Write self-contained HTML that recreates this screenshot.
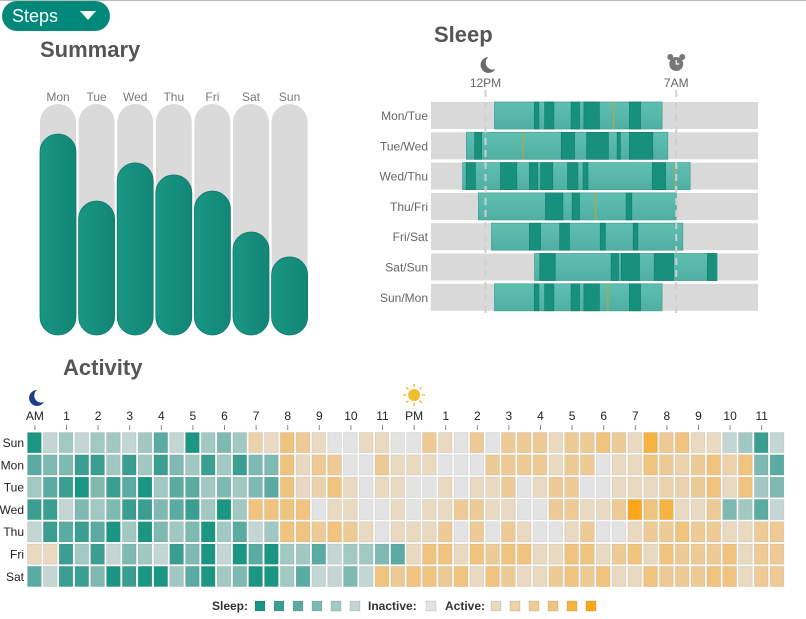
<!DOCTYPE html>
<html><head><meta charset="utf-8">
<style>
html,body{margin:0;padding:0;background:#fff;width:806px;height:619px;overflow:hidden;font-family:"Liberation Sans",sans-serif;}
svg text{font-family:"Liberation Sans",sans-serif;}
</style></head>
<body>
<svg id="root" width="806" height="619" viewBox="0 0 806 619" xmlns="http://www.w3.org/2000/svg">
<defs>
<linearGradient id="stepG" x1="0" x2="1" y1="0" y2="0"><stop offset="0" stop-color="#1a9684"/><stop offset="1" stop-color="#128676"/></linearGradient>
<linearGradient id="lightG" x1="0" x2="0" y1="0" y2="1"><stop offset="0" stop-color="#5fc0b2"/><stop offset="1" stop-color="#4fafa2"/></linearGradient>
</defs>
<line x1="0" y1="0.5" x2="806" y2="0.5" stroke="#bbb"/>
<g>
<rect x="2" y="1" width="108" height="30" rx="15" fill="#00897b"/>
<text x="12" y="22" font-size="18" fill="#fff">Steps</text>
<path d="M80 11 L96 11 L88 20 Z" fill="#fff"/>
</g>
<text x="40" y="57" font-size="22" font-weight="bold" fill="#555">Summary</text>
<text x="434" y="42" font-size="22" font-weight="bold" fill="#555">Sleep</text>
<text x="63" y="375" font-size="22" font-weight="bold" fill="#555">Activity</text>
<g id="summary"></g>
<g id="sleep"></g>
<g id="activity"></g>
<g id="legend"></g>
</svg>
<script>
const NS="http://www.w3.org/2000/svg";
function mk(tag,attrs,parent){const e=document.createElementNS(NS,tag);for(const k in attrs)e.setAttribute(k,attrs[k]);if(parent)parent.appendChild(e);return e;}

// ---------- Summary data ----------
const stepDays=["Mon","Tue","Wed","Thu","Fri","Sat","Sun"];
const stepValues=[8700,5800,7450,6930,6230,4460,3380];
const stepMax=10000;

// ---------- Sleep data (hours relative to midnight) ----------
const sleepNights=["Mon/Tue","Tue/Wed","Wed/Thu","Thu/Fri","Fri/Sat","Sat/Sun","Sun/Mon"];
const sleepStart=[0.33,-0.70,-0.84,-0.26,0.22,1.80,0.33];
const sleepEnd=[6.48,6.69,7.51,7.0,7.24,8.50,6.48];
const deepSegments=[
 [[1.79,1.96],[2.17,2.51],[3.14,3.45],[3.61,4.18],[5.28,5.69]],
 [[-0.40,-0.14],[2.78,3.27],[3.71,4.51],[4.83,4.95],[5.28,6.14]],
 [[-0.71,-0.37],[0.55,1.15],[1.61,1.92],[2.02,2.47],[3.01,3.39],[3.58,3.76],[6.12,6.61]],
 [[2.20,2.84],[3.18,3.45],[5.16,5.37]],
 [[1.61,2.02],[2.72,3.08],[4.21,4.40],[5.42,5.59]],
 [[1.99,2.56],[4.61,4.88],[4.98,5.65],[6.19,6.90],[8.14,8.47]],
 [[1.79,1.96],[2.17,2.51],[3.14,3.45],[3.61,4.18],[5.28,5.69]]
];
const awakeMarks=[[4.70],[1.37],[6.97],[4.04],[],[],[4.49]];

// ---------- Activity data ----------
const actDays=["Sun","Mon","Tue","Wed","Thu","Fri","Sat"];
const hourLabels=["AM","1","2","3","4","5","6","7","8","9","10","11","PM","1","2","3","4","5","6","7","8","9","10","11"];
const actLevels=[
 [-6,-1,-2,-1,-2,-2,-1,-2,-4,-1,-6,-2,-3,-2,2,1,4,3,1,0,0,1,1,0, 0,3,1,0,3,0,3,3,3,1,3,3,4,3,1,5,3,4,1,1,-1,-2,-5,-1],
 [-4,-3,-3,-5,-5,-2,-5,-2,-5,-3,-2,-5,-2,-5,-3,-3,4,1,3,3,0,0,3,1, 1,1,0,0,0,3,3,3,3,1,3,3,0,1,1,4,3,2,3,4,2,4,-3,-4],
 [-2,-4,-5,-6,-3,-5,-4,-6,-2,-4,-4,-2,-3,-2,-3,-4,4,1,2,4,1,0,1,1, 0,0,1,0,1,1,3,0,1,3,3,0,0,1,1,1,2,2,3,4,1,4,-2,-3],
 [-5,-5,-1,-3,-2,-3,-5,-5,-3,-4,-5,-2,-6,-2,4,4,4,4,0,1,1,0,0,1, 0,1,1,3,3,1,1,0,0,3,3,1,1,3,6,4,5,1,1,3,-3,-2,-4,-1],
 [-1,-5,-4,-5,-4,-6,-2,-6,-3,-2,-3,-6,-2,-4,-1,-2,4,4,3,4,3,1,0,1, 1,1,3,0,3,0,3,1,0,0,1,3,0,0,1,3,3,4,3,3,1,1,3,3],
 [1,1,-5,-2,-5,-1,-3,-2,-1,-5,-3,-6,-1,-6,-4,-6,-2,-2,-4,-1,-2,-2,-3,-4, 1,4,4,1,4,3,4,4,1,1,4,4,1,3,4,1,4,3,3,3,4,1,3,3],
 [-4,-1,-5,-5,-3,-6,-5,-6,-6,-2,-4,-6,-2,-3,-6,-6,-2,-4,-1,-1,-3,-1,4,3, 4,4,3,4,1,4,3,1,1,3,4,3,4,1,1,4,3,3,3,4,4,1,3,3]
];
const sleepPalette=["#c3d6d3","#a2c8c3","#7fbab2","#5aaca2","#3a9f90","#1a9682"];
const inactiveColor="#e3e3e3";
const activePalette=["#e8d9c0","#ebd2ad","#eecb96","#f0c47f","#f5b344","#fda61a"];
function levelColor(v){if(v<0)return sleepPalette[-v-1];if(v===0)return inactiveColor;return activePalette[v-1];}

// ---------- Summary render ----------
const sg=document.getElementById('summary');
const sumX0=40,sumPitch=38.6,sumW=36,sumTop=104,sumBot=335;
function sumY(v){return sumBot-(v/stepMax)*(sumBot-sumTop);}
stepDays.forEach((d,i)=>{
 const x=sumX0+i*sumPitch;
 const t=mk('text',{x:x+sumW/2,y:101,'text-anchor':'middle','font-size':12,fill:'#777'},sg);t.textContent=d;
 
 
 const bg=mk('rect',{x:x,y:sumTop,width:sumW,height:sumBot-sumTop,rx:18,fill:'#dadada'},sg);
 
 
 const y=sumY(stepValues[i]);
 const b=mk('rect',{x:x,y:y,width:sumW,height:sumBot-y,rx:18,fill:'url(#stepG)',stroke:'#0f7a6b','stroke-width':0.8},sg);
 
 
});

// ---------- Sleep render ----------
const sl=document.getElementById('sleep');
const slX0=431,slX1=758,hMin=-2,hMax=10;
function sx(h){return slX0+(h-hMin)/(hMax-hMin)*(slX1-slX0);}
const slTop=102,slPitch=30.3,slH=27;
sleepNights.forEach((n,i)=>{
 const y=slTop+i*slPitch;
 const lab=mk('text',{x:428,y:y+18,'text-anchor':'end','font-size':12,fill:'#666'},sl);lab.textContent=n;
 
 
 const bg=mk('rect',{x:slX0,y:y,width:slX1-slX0,height:slH,fill:'#d9d9d9'},sl);
 
 
 const bar=mk('rect',{x:sx(sleepStart[i]),y:y,width:sx(sleepEnd[i])-sx(sleepStart[i]),height:slH,fill:'url(#lightG)',stroke:'#4aa496','stroke-width':0.8},sl);
 
 
 deepSegments[i].forEach(s=>{
  const r=mk('rect',{x:sx(s[0]),y:y,width:sx(s[1])-sx(s[0]),height:slH,fill:'#17907e',stroke:'#137a6b','stroke-width':0.6},sl);
  
  
 });
 awakeMarks[i].forEach(a=>{
  const l=mk('line',{x1:sx(a),x2:sx(a),y1:y,y2:y+slH,stroke:'#b8a642','stroke-width':1.2},sl);
  
  
 });
});
[[0,'12PM','bedtime'],[7,'7AM','wake']].forEach(m=>{
 const x=sx(m[0]);
 const l=mk('line',{x1:x,x2:x,y1:90,y2:318,stroke:'#cfcfcf','stroke-width':2,'stroke-dasharray':'7,5'},sl);
 
 
 const t=mk('text',{x:x,y:87,'text-anchor':'middle','font-size':12,fill:'#666'},sl);t.textContent=m[1];
 
 
});
// moon icon (sleep)
const mo=mk('path',{d:'M'+(sx(0)+3)+' 57 a8 8 0 1 0 7 12 a7 7 0 0 1 -7 -12 z',fill:'#6b6b6b'},sl);


const ax=sx(7);
const al=mk('g',{},sl);


mk('circle',{cx:ax,cy:64,r:7,fill:'#777'},al);
mk('circle',{cx:ax-6,cy:57,r:3,fill:'#777'},al);
mk('circle',{cx:ax+6,cy:57,r:3,fill:'#777'},al);
mk('path',{d:`M${ax} 60 V64 H${ax+3}`,stroke:'#fff','stroke-width':1.2,fill:'none'},al);

// ---------- Activity render ----------
const ac=document.getElementById('activity');
const axX0=27,cellP=15.8,ayY0=432,rowP=22.3;
function cx(i){return axX0+i*cellP;}
function cy(r){return ayY0+r*rowP;}
hourLabels.forEach((h,k)=>{
 const x=cx(2*k)+cellP/2;
 const t=mk('text',{x:x,y:420,'text-anchor':'middle','font-size':12,fill:'#222'},ac);t.textContent=h;
 
 
 const tk=mk('line',{x1:x,x2:x,y1:425,y2:430,stroke:'#888'},ac);
 
 
});
actDays.forEach((d,r)=>{
 const t=mk('text',{x:24,y:cy(r)+15,'text-anchor':'end','font-size':12,fill:'#222'},ac);t.textContent=d;
 
 
 actLevels[r].forEach((v,i)=>{
  const c=mk('rect',{x:cx(i)+0.5,y:cy(r)+0.5,width:cellP-2,height:rowP-2,fill:levelColor(v),stroke:'rgba(0,0,0,0.07)','stroke-width':1},ac);
  
  
 });
});
const am=mk('path',{d:'M37 390 a8 8 0 1 0 7 12 a7 7 0 0 1 -7 -12 z',fill:'#1f3a8a'},ac);


const sun=mk('g',{},ac);


const sX=cx(24)+cellP/2,sY=395;
mk('circle',{cx:sX,cy:sY,r:6,fill:'#f0bd2f'},sun);
for(let k=0;k<8;k++){const a=k*Math.PI/4;mk('line',{x1:sX+8*Math.cos(a),y1:sY+8*Math.sin(a),x2:sX+11*Math.cos(a),y2:sY+11*Math.sin(a),stroke:'#f0bd2f','stroke-width':1.5},sun);}

// ---------- Legend ----------
const lg=document.getElementById('legend');
const legY=606;
function legText(x,s,name){const t=mk('text',{x:x,y:legY+4,'font-size':12,'font-weight':'bold',fill:'#333'},lg);t.textContent=s;}
function legSq(x,c){const r=mk('rect',{x:x,y:legY-5,width:10,height:10,fill:c,stroke:'rgba(0,0,0,0.1)'},lg);}
legText(212,'Sleep:','legend-sleep-label');
[-6,-5,-4,-3,-2,-1].forEach((v,k)=>legSq(255+k*19,levelColor(v)));
legText(368,'Inactive:','legend-inactive-label');
legSq(426,inactiveColor);
legText(445,'Active:','legend-active-label');
[1,2,3,4,5,6].forEach((v,k)=>legSq(491+k*19,levelColor(v)));
</script>
</body></html>
